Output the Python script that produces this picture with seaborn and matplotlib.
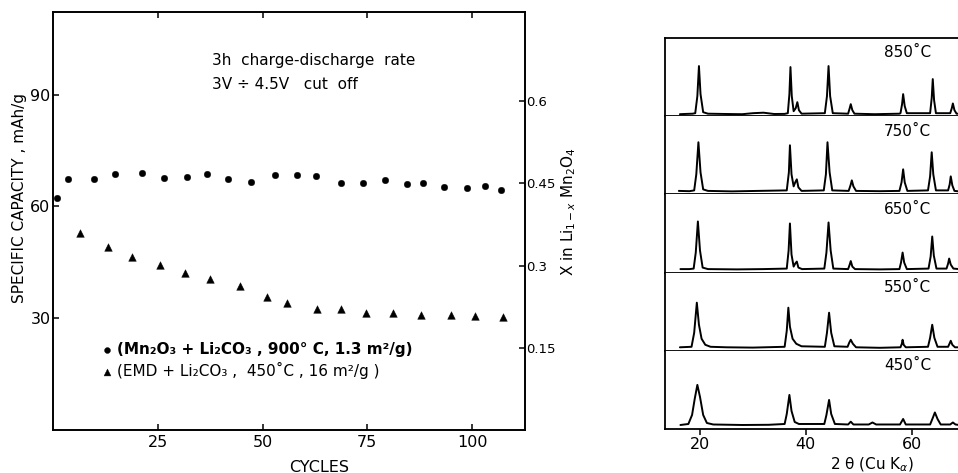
import matplotlib
matplotlib.use("Agg")
import matplotlib.pyplot as plt
import seaborn as sns
import pandas as pd

# ---------------- Left chart data ----------------
cycles_mn2o3 = [0.9, 3.6, 9.7, 14.7, 21.3, 26.4, 32.0, 36.8, 41.8, 47.1, 52.9,
                58.1, 62.7, 68.6, 74.0, 79.2, 84.5, 88.4, 93.3, 98.9, 103.2, 107.0]
capacity_mn2o3 = [62.3, 67.3, 67.3, 68.7, 69.1, 67.6, 67.9, 68.7, 67.3, 66.5, 68.5,
                  68.5, 68.3, 66.4, 66.4, 67.1, 66.1, 66.4, 65.3, 64.9, 65.5, 64.5]
cycles_emd = [6.4, 13.1, 18.9, 25.5, 31.4, 37.5, 44.6, 51.0, 55.9, 62.9, 68.8,
              74.8, 81.2, 87.9, 95.1, 100.7, 107.3]
capacity_emd = [52.9, 49.0, 46.5, 44.3, 42.2, 40.4, 38.7, 35.7, 34.0, 32.4, 32.4,
                31.3, 31.3, 30.8, 30.8, 30.5, 30.2]

x_ticks = [25, 50, 75, 100]
y_ticks = [30, 60, 90]
y2_ticks = [0.15, 0.3, 0.45, 0.6]
y2_tick_labels = ["0.15", "0.3", "0.45", "0.6"]
label_mn2o3 = "(Mn₂O₃ + Li₂CO₃ , 900° C, 1.3 m²/g)"
label_emd = "(EMD + Li₂CO₃ ,  450˚C , 16 m²/g )"

# ---------------- Right chart data (XRD traces) ----------------
tt_850 = [16.2, 17.5, 18.6, 19.1, 19.5, 19.8, 20.1, 20.6, 21.5, 25.0, 28.0, 30.0, 32.0, 34.0, 36.0,
          36.6, 36.9, 37.1, 37.35, 37.7, 38.1, 38.4, 38.7, 39.2, 43.6, 44.0, 44.3, 44.6, 45.1,
          48.0, 48.3, 48.5, 48.8, 49.2, 53.0, 57.7, 57.9, 58.2, 58.4, 58.7, 59.1,
          63.5, 63.8, 64.0, 64.25, 64.6, 67.3, 67.6, 67.8, 68.1, 68.5, 69.0]
int_850 = [2.0, 2.3, 2.5, 3.0, 20.0, 50.0, 22.0, 4.0, 2.5, 2.2, 2.0, 3.0, 3.5, 2.2, 2.3,
           3.0, 22.0, 49.0, 20.0, 5.0, 8.0, 14.0, 6.0, 2.5, 3.0, 20.0, 50.0, 20.0, 3.0,
           2.5, 8.0, 12.0, 6.0, 2.5, 2.0, 2.5, 3.0, 12.0, 22.0, 10.0, 3.0,
           3.0, 18.0, 37.0, 16.0, 3.0, 3.0, 8.0, 12.7, 6.0, 2.5, 2.5]

tt_750 = [16.0, 18.0, 18.9, 19.3, 19.7, 20.1, 20.6, 21.5, 26.0, 31.0, 36.4, 36.8, 37.0, 37.3, 37.7,
          38.0, 38.3, 38.6, 39.2, 43.4, 43.8, 44.1, 44.5, 45.0, 48.1, 48.45, 48.7, 49.0, 49.5,
          54.0, 57.7, 58.1, 58.4, 58.7, 59.2, 63.1, 63.5, 63.8, 64.1, 64.6,
          66.9, 67.2, 67.4, 67.7, 68.1, 69.0]
int_750 = [3.5, 3.2, 4.0, 20.0, 52.0, 22.0, 5.0, 3.5, 3.0, 3.5, 4.0, 22.0, 49.0, 20.0, 8.0,
           12.0, 15.0, 7.0, 3.5, 4.0, 20.0, 52.0, 22.0, 4.0, 3.5, 9.0, 14.0, 8.0, 3.5,
           3.2, 3.5, 12.0, 25.0, 12.0, 3.5, 4.0, 18.0, 42.0, 20.0, 4.0,
           4.0, 10.0, 18.0, 9.0, 3.5, 3.0]

tt_650 = [16.3, 18.0, 18.8, 19.2, 19.6, 20.0, 20.5, 21.5, 27.0, 32.0, 36.4, 36.75, 37.0, 37.3, 37.7,
          38.0, 38.3, 38.6, 39.3, 43.5, 43.9, 44.3, 44.7, 45.2, 48.0, 48.3, 48.5, 48.8, 49.3,
          54.0, 57.7, 58.0, 58.3, 58.6, 59.1, 63.2, 63.6, 63.9, 64.2, 64.7,
          66.6, 66.9, 67.1, 67.4, 67.9, 69.0]
int_650 = [3.5, 3.5, 4.0, 20.0, 51.0, 22.0, 5.0, 3.5, 3.2, 3.5, 4.0, 22.0, 49.0, 18.0, 6.0,
           9.0, 11.0, 5.0, 3.5, 4.0, 20.0, 50.0, 22.0, 4.0, 3.5, 8.0, 11.5, 6.0, 3.5,
           3.2, 3.5, 10.0, 20.0, 10.0, 3.5, 4.0, 16.0, 36.0, 17.0, 4.0,
           4.0, 9.0, 14.0, 8.0, 4.0, 3.5]

tt_550 = [16.2, 18.4, 18.9, 19.4, 19.8, 20.3, 21.0, 22.0, 25.0, 30.0, 36.0, 36.4, 36.7, 37.0, 37.5,
          38.2, 39.2, 43.6, 44.0, 44.4, 44.8, 45.4, 47.9, 48.2, 48.5, 48.9, 49.5,
          54.0, 57.9, 58.15, 58.3, 58.5, 58.9, 63.1, 63.5, 63.9, 64.3, 64.9,
          66.9, 67.2, 67.4, 67.7, 68.2, 69.0]
int_550 = [3.5, 4.0, 18.0, 48.0, 26.0, 12.0, 6.0, 4.0, 3.5, 3.2, 4.0, 20.0, 43.0, 24.0, 12.0,
           7.0, 4.5, 4.0, 18.0, 38.0, 18.0, 4.5, 4.0, 8.0, 11.0, 7.0, 3.5,
           3.0, 3.5, 7.0, 11.0, 6.0, 3.5, 4.0, 13.0, 26.0, 13.0, 4.0,
           4.0, 7.5, 10.0, 6.0, 3.5, 3.5]

tt_450 = [16.3, 17.8, 18.5, 19.0, 19.5, 20.0, 20.6, 21.3, 22.5, 28.0, 33.0, 36.0, 36.4, 36.9, 37.3,
          37.9, 38.7, 43.5, 43.9, 44.4, 44.8, 45.5, 48.0, 48.5, 49.0, 51.9, 52.6, 53.3,
          57.8, 58.4, 58.9, 63.5, 64.0, 64.4, 64.9, 65.5, 67.3, 67.8, 68.3, 69.0]
int_450 = [4.0, 5.0, 14.0, 30.0, 44.0, 32.0, 14.0, 6.0, 4.5, 4.0, 4.2, 5.0, 15.0, 34.0, 18.0,
           7.0, 5.0, 5.0, 14.0, 29.0, 15.0, 5.0, 4.5, 7.3, 4.5, 4.5, 6.5, 4.5,
           4.5, 10.0, 4.5, 4.5, 11.0, 16.5, 10.0, 4.5, 4.5, 6.5, 4.5, 4.0]

temp_labels = ["850˚C", "750˚C", "650˚C", "550˚C", "450˚C"]
xrd_two_theta = [tt_850, tt_750, tt_650, tt_550, tt_450]
xrd_intensity = [int_850, int_750, int_650, int_550, int_450]
xrd_ticks = [20, 40, 60]

# ---------------- Styling ----------------
sns.set_theme(style="ticks")
plt.rcParams['font.family'] = ['DejaVu Sans']
plt.rcParams['axes.edgecolor'] = 'black'
plt.rcParams['text.color'] = 'black'
plt.rcParams['xtick.color'] = 'black'
plt.rcParams['ytick.color'] = 'black'
plt.rcParams['mathtext.fontset'] = 'dejavusans'

W, H = 958, 473
fig = plt.figure(figsize=(W / 100, H / 100), dpi=100)
fig.patch.set_facecolor('white')

# ---------- Left chart ----------
L, R, T, B = 53.3, 525.0, 12.0, 429.5
ax = fig.add_axes([L / W, 1 - B / H, (R - L) / W, (B - T) / H])
ax.set_facecolor('white')

df1 = pd.DataFrame({"cycles": cycles_mn2o3, "cap": capacity_mn2o3})
df2 = pd.DataFrame({"cycles": cycles_emd, "cap": capacity_emd})
sns.scatterplot(data=df1, x="cycles", y="cap", ax=ax, marker='o', s=22, color='black',
                edgecolor='black', linewidth=0.3, label=label_mn2o3, clip_on=False, zorder=3)
sns.scatterplot(data=df2, x="cycles", y="cap", ax=ax, marker='^', s=30, color='black',
                edgecolor='black', linewidth=0.3, label=label_emd, zorder=3)

ax.set_xlim(0, (R - L) / 4.187)
ax.set_ylim(0, (B - T) / 3.717)
ax.set_xticks(x_ticks)
ax.set_yticks(y_ticks)
ax.set_xlabel("")
ax.set_ylabel("")
for s in ax.spines.values():
    s.set_linewidth(1.2)
    s.set_color('black')
ax.tick_params(axis='both', direction='in', length=4, width=1.1, labelsize=11.5, pad=4,
               top=True, right=False)
ax.tick_params(axis='y', pad=2)

ax2 = ax.twinx()
ax2.set_ylim(0.0015, 0.762)
ax2.set_yticks(y2_ticks)
ax2.set_yticklabels(y2_tick_labels)
ax2.tick_params(axis='y', direction='in', length=4, width=1.1, labelsize=9.5, pad=1)
for s in ax2.spines.values():
    s.set_linewidth(1.2)
    s.set_color('black')

leg = ax.legend(loc='upper left', bbox_to_anchor=((100 - L) / (R - L), (B - 342) / (B - T)),
                frameon=False, fontsize=11, handletextpad=0.2, handlelength=0.9,
                borderpad=0, borderaxespad=0, labelspacing=0.35, markerscale=0.9)
leg.get_texts()[0].set_fontweight('bold')

ax.text((212 - L) / (R - L), (B - 60) / (B - T), "3h  charge-discharge  rate",
        transform=ax.transAxes, fontsize=11, ha='left', va='center')
ax.text((212 - L) / (R - L), (B - 84) / (B - T), "3V ÷ 4.5V   cut  off",
        transform=ax.transAxes, fontsize=11, ha='left', va='center')

fig.text(20 / W, 1 - 198 / H, "SPECIFIC CAPACITY , mAh/g", rotation=90,
         ha='center', va='center', fontsize=11)
fig.text(569 / W, 1 - 212 / H, r"X in Li$_{1-x}$ Mn$_2$O$_4$", rotation=90,
         ha='center', va='center', fontsize=11)
fig.text(319 / W, 1 - 467 / H, "CYCLES", ha='center', va='center', fontsize=11.5)

# ---------- Right chart: stacked XRD patterns ----------
XL, XT, XB = 665.0, 38.0, 429.0
ph = (XB - XT) / 5
px_per_deg = 5.29
x_min = 20 - (700 - XL) / px_per_deg
x_max = 20 + (W - 700) / px_per_deg
for i in range(5):
    ytop = XT + i * ph
    axr = fig.add_axes([XL / W, 1 - (ytop + ph) / H, (W - XL) / W, ph / H])
    axr.set_facecolor('white')
    dfx = pd.DataFrame({"tt": xrd_two_theta[i], "I": xrd_intensity[i]})
    sns.lineplot(data=dfx, x="tt", y="I", ax=axr, color='black', linewidth=1.4,
                 estimator=None, sort=False)
    axr.set_xlim(x_min, x_max)
    axr.set_ylim(0, 78)
    axr.set_xlabel("")
    axr.set_ylabel("")
    axr.set_yticks([])
    axr.spines['right'].set_visible(False)
    axr.spines['top'].set_visible(i == 0)
    for s in axr.spines.values():
        s.set_linewidth(1.3)
        s.set_color('black')
    axr.text(59.2, 0.81, temp_labels[i], transform=axr.get_xaxis_transform(),
             ha='center', va='center', fontsize=11)
    if i == 4:
        axr.set_xticks(xrd_ticks)
        axr.tick_params(axis='x', direction='out', length=4, width=1.1, labelsize=11.5, pad=2)
    else:
        axr.set_xticks([])

fig.text(872 / W, 1 - 465 / H, r"2 θ (Cu K$_\alpha$)", ha='center', va='center', fontsize=11)

fig.savefig("out.png", dpi=100, facecolor='white')
